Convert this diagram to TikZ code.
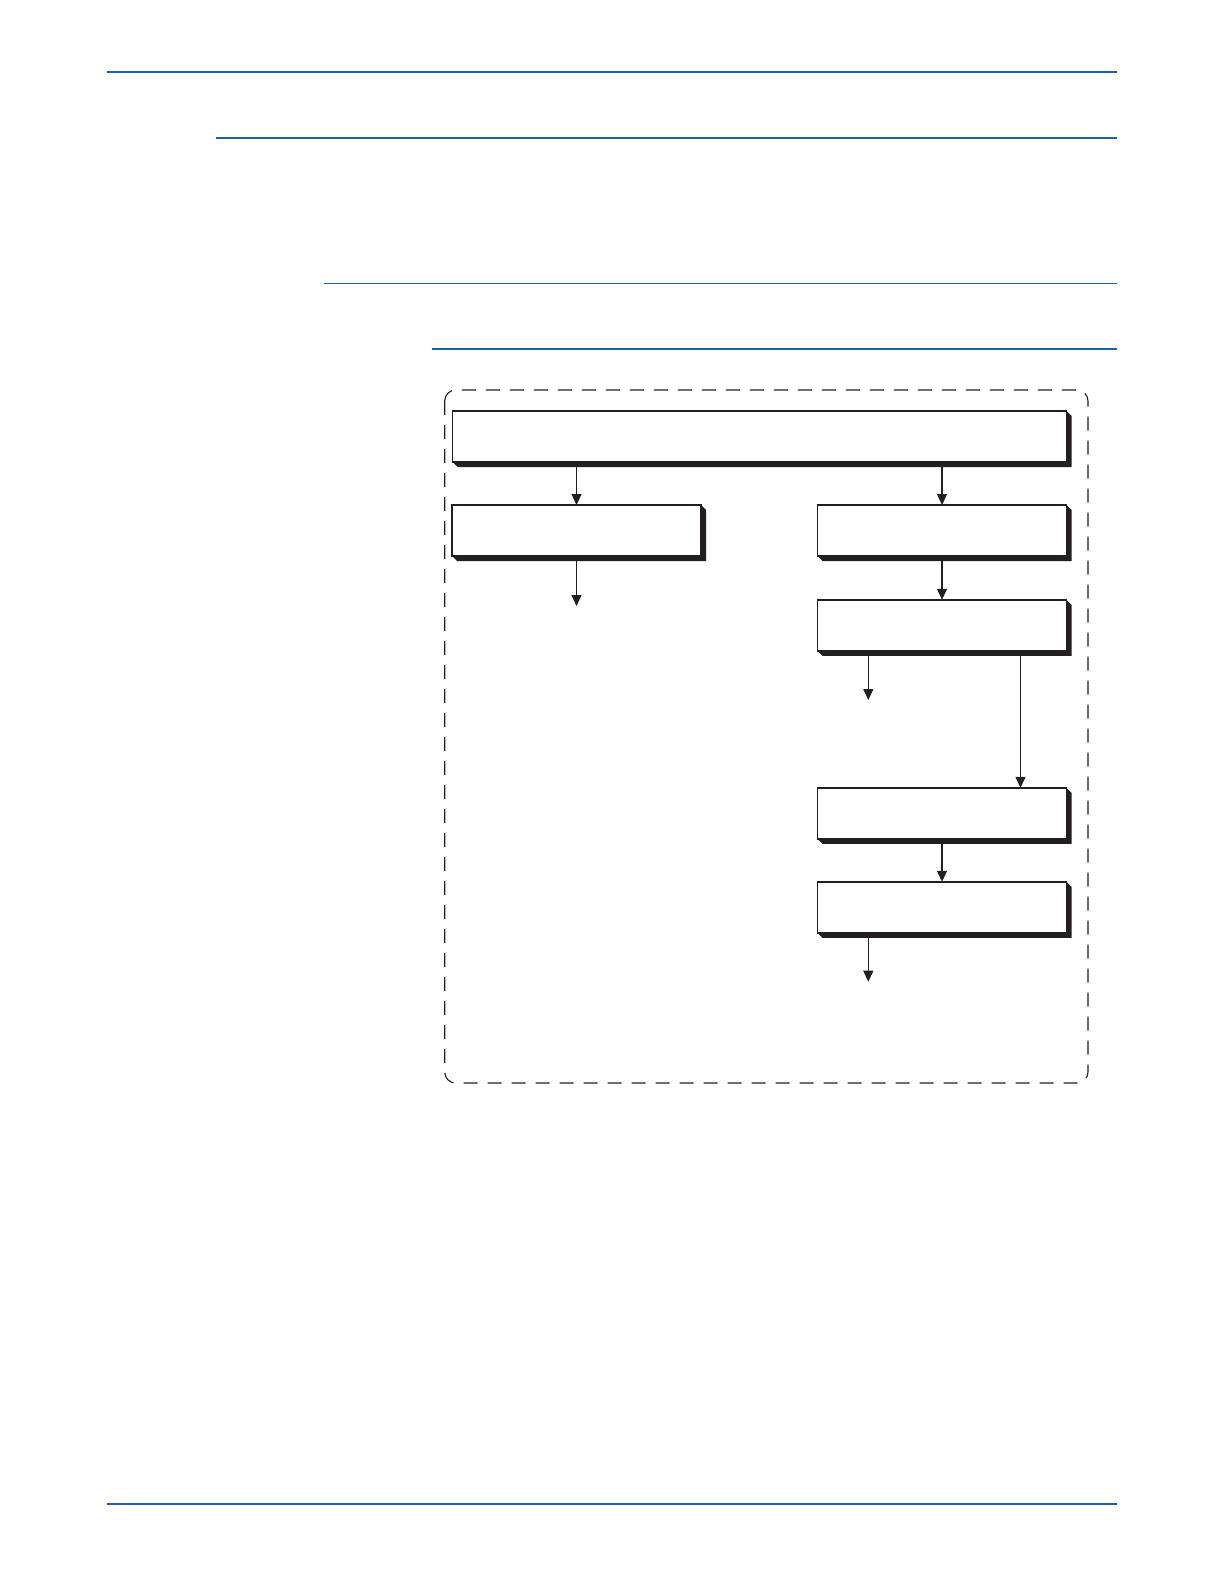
\documentclass[tikz,border=0pt]{standalone}
\usetikzlibrary{arrows.meta}
\definecolor{rBlue}{HTML}{1B5FAE}
\definecolor{sDark}{HTML}{231F20}

\begin{document}
\begin{tikzpicture}[x=1pt,y=-1pt,>={Triangle[width=10pt,length=11pt]}]
		\tikzstyle{RULE} = [rBlue, line width=2.2pt]
		\tikzstyle{THIN} = [rBlue, line width=1.3pt]
		\tikzstyle{BOX} = [draw=sDark, line width=1.4pt, fill=white, outer sep=0pt, minimum height=51pt]
		\tikzstyle{wide} = [BOX, minimum width=614pt]
		\tikzstyle{half} = [BOX, minimum width=249pt]
		\tikzstyle{flow} = [->, sDark, line width=1.2pt]

		\useasboundingbox (0,0) rectangle (1224,1584);

		\draw[RULE] (107,71.7) -- (1116.7,71.7);
		\draw[RULE] (216,137.7) -- (1116.7,137.7);
		\draw[THIN] (324,283.3) -- (1116.7,283.3);
		\draw[THIN] (432,349) -- (1116.7,349);
		\draw[RULE] (107,1503.7) -- (1116.7,1503.7);

		\draw[sDark, line width=1.1pt, dash pattern=on 14pt off 10pt, rounded corners=11pt]
			(444.7,390) rectangle (1088,1083);

		\node[wide] (top) at 		(759.5, 436.5) {};
		\node[half] (lOne) at 		(576.5, 530.5) {};
		\node[half] (rOne) at 		(942, 530.5) {};
		\node[half] (rTwo) at 		(942, 625.3) {};
		\node[half] (rThr) at 		(942, 813.3) {};
		\node[half] (rFou) at 		(942, 907.3) {};
		\coordinate (lOut) at 		(576.5, 606);
		\coordinate (rTwoOut) at 	(868.3, 700);
		\coordinate (rFouOut) at 	(868.3, 981.7);
		\coordinate (rTwoSide) at 	(1020.5, 650);

		% drop shadows
		\foreach \b in {top,lOne,rOne,rTwo,rThr,rFou}
			\fill[sDark] (\b.south west) -- ++(5,5) -| ([shift={(5,5)}]\b.north east)
				-- (\b.north east) |- (\b.south west) -- cycle;

		\draw[flow] (top.south -| lOne.north) -- (lOne.north);
		\draw[flow] (top.south -| rOne.north) -- (rOne.north);
		\draw[flow] (lOne.south) -- (lOut);
		\draw[flow] (rOne.south) -- (rTwo.north);
		\draw[flow] (rTwo.south -| rTwoOut) -- (rTwoOut);
		\draw[flow] (rTwoSide) -- (rTwoSide |- rThr.north);
		\draw[flow] (rThr.south) -- (rFou.north);
		\draw[flow] (rFou.south -| rFouOut) -- (rFouOut);
\end{tikzpicture}
\end{document}
